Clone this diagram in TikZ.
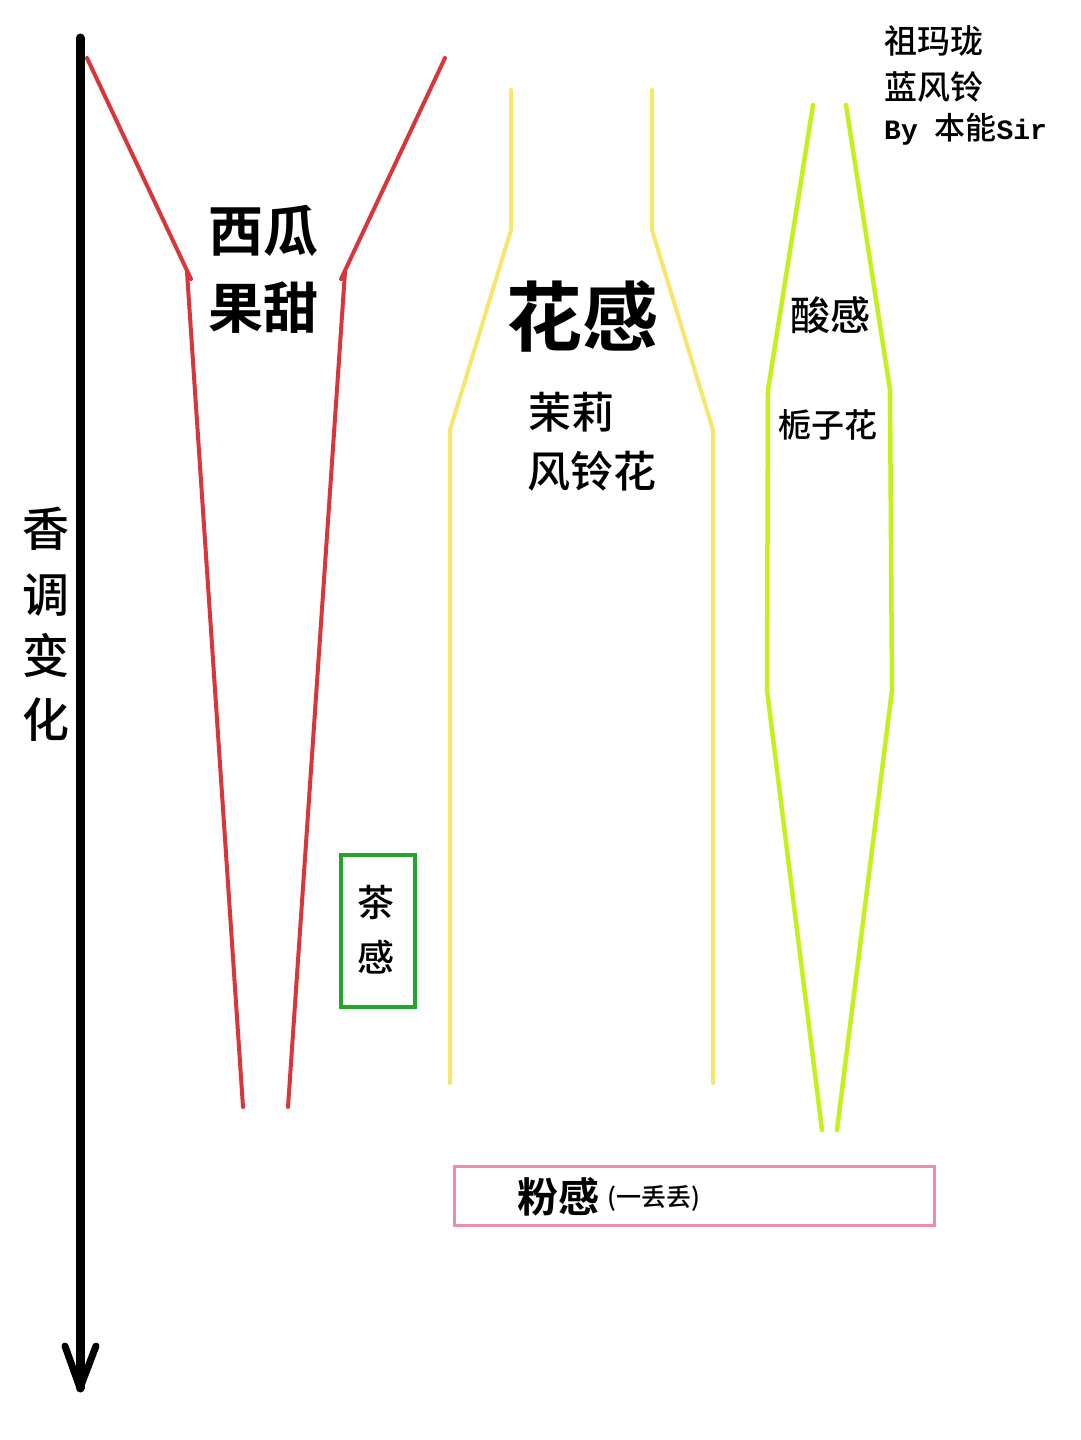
\documentclass[tikz,border=0pt]{standalone}
\usepackage{fontspec}
\setmainfont{Noto Sans CJK SC}
\newfontfamily\cjk{Noto Sans CJK SC Medium}
\newfontfamily\cjkb{Noto Sans CJK SC Bold}
\newfontfamily\slab{Liberation Mono}
\definecolor{redline}{HTML}{D8363A}
\definecolor{yelline}{HTML}{F6E66C}
\definecolor{grnline}{HTML}{C4F01E}
\definecolor{teagreen}{HTML}{22A52A}
\definecolor{pinkbox}{HTML}{EE8AAE}
\tikzset{
  redl/.style={draw=redline,line width=4pt,line cap=round,line join=round},
  yell/.style={draw=yelline,line width=4pt,line cap=round,line join=round},
  grnl/.style={draw=grnline,line width=4.5pt,line cap=round,line join=round},
  lbl/.style={inner sep=0pt,font=\cjk},
  lblb/.style={inner sep=0pt,font=\cjkb},
}
\begin{document}
\begin{tikzpicture}[x=1pt,y=-1pt]
\useasboundingbox[fill=white] (0,0) rectangle (1080,1440);
% time axis arrow
\coordinate (axtop) at (80,38);
\coordinate (axbot) at (80,1388);
\coordinate (tipl) at (65,1346);
\coordinate (tipr) at (96,1346);
\draw[line width=9pt,line cap=round] (axtop) -- (axbot);
\draw[line width=7pt,line cap=round,line join=round] (tipl) -- (axbot) -- (tipr);
% red funnel
\draw[redl] (87,58) -- (191,279);
\draw[redl] (187,272) -- (243,1107);
\draw[redl] (445,58) -- (341,279);
\draw[redl] (345,272) -- (288,1107);
% yellow
\draw[yell] (511,90) -- (511,230) -- (450,430) -- (450,1083);
\draw[yell] (652,90) -- (652,230) -- (713,430) -- (713,1083);
% green
\draw[grnl] (813,105) -- (768,390) -- (767,690) -- (822,1130);
\draw[grnl] (846,105) -- (890,390) -- (892,690) -- (837,1130);
% boxes
\node[draw=teagreen,line width=3.5pt,minimum width=74pt,minimum height=152pt,inner sep=0pt] (tea) at (378,931) {};
\node[lbl,font=\cjk\fontsize{37}{37}\selectfont] (tea1) at (376,903) {茶};
\node[lbl,font=\cjk\fontsize{37}{37}\selectfont] (tea2) at (376,957) {感};
\node[draw=pinkbox,line width=3pt,minimum width=480pt,minimum height=59pt,inner sep=0pt] (powder) at (694,1195.5) {};
\node[lblb,font=\cjkb\fontsize{41}{41}\selectfont] (pw1) at (558,1197) {粉感};
\node[lbl,font=\cjk\fontsize{25}{25}\selectfont] (pw2) at (654,1198) {(一丢丢)};
% labels
\node[lblb,font=\cjkb\fontsize{55}{55}\selectfont] (xg) at (263,231) {西瓜};
\node[lblb,font=\cjkb\fontsize{55}{55}\selectfont] (gt) at (263,308) {果甜};
\node[lblb,font=\cjkb\fontsize{76}{76}\selectfont] (hg) at (582,316) {花感};
\node[lbl,font=\cjk\fontsize{43}{43}\selectfont] (ml) at (571,412) {茉莉};
\node[lbl,font=\cjk\fontsize{43}{43}\selectfont] (flh) at (592,471) {风铃花};
\node[lbl,font=\cjk\fontsize{40}{40}\selectfont] (sg) at (830,315) {酸感};
\node[lbl,font=\cjk\fontsize{33}{33}\selectfont] (zzh) at (828,425) {栀子花};
\node[lbl,font=\cjk\fontsize{47}{47}\selectfont] (v1) at (46,529) {香};
\node[lbl,font=\cjk\fontsize{47}{47}\selectfont] (v2) at (46,595) {调};
\node[lbl,font=\cjk\fontsize{47}{47}\selectfont] (v3) at (46,655) {变};
\node[lbl,font=\cjk\fontsize{47}{47}\selectfont] (v4) at (46,720) {化};
% credit
\node[lbl,font=\cjk\fontsize{33}{33}\selectfont,anchor=west] (c1) at (884,41) {祖玛珑};
\node[lbl,font=\cjk\fontsize{33}{33}\selectfont,anchor=west] (c2) at (884,87) {蓝风铃};
\node[lbl,anchor=base west] (c3) at (884,139) {{\slab\bfseries\fontsize{28}{28}\selectfont By }{\cjk\fontsize{31}{31}\selectfont 本能}{\slab\bfseries\fontsize{28}{28}\selectfont Sir}};
\end{tikzpicture}
\end{document}
